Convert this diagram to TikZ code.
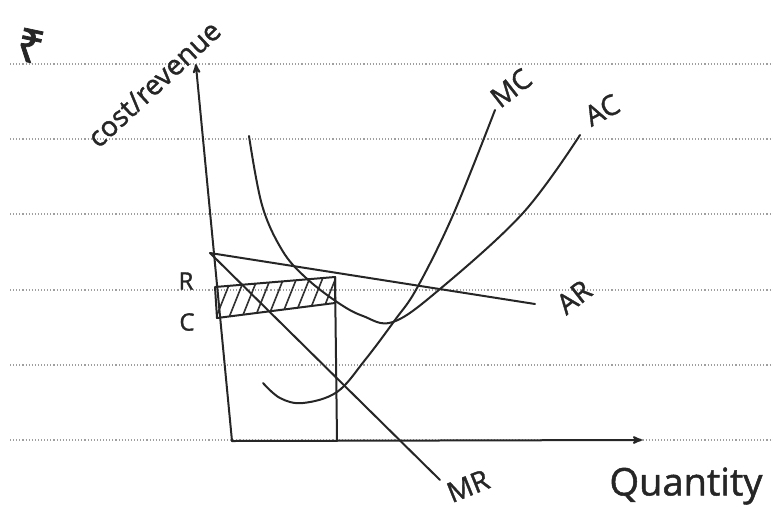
\documentclass[tikz,border=0pt]{standalone}
\usepackage{fontspec}
\setmainfont{Open Sans}
\newfontfamily\handfont{Open Sans}[FakeBold=1.3]
\newfontfamily\rupeefont{Noto Sans}[FakeBold=1.5]
\usetikzlibrary{arrows, calc}

\begin{document}
\begin{tikzpicture}[
  x=1pt, y=-1pt,
  ruled/.style={gray!75, dotted, line width=1.1pt},
  pen/.style={black!85, line width=2pt, line cap=round, line join=round},
  arrow/.style={pen, ->, >=stealth', shorten >=-2pt},
  hatch/.style={black!80, line width=1.6pt, line cap=round},
  hand/.style={font=\handfont\fontsize{28}{32}\selectfont, text=black!85, inner sep=0pt}
]
\useasboundingbox (0,0) rectangle (773,509);

% ruled paper
\foreach \ly in {64,139,214,290,365,440}
  \draw[ruled] (10,\ly) -- (773,\ly);

% key points
\coordinate (origin) at (232,441);
\coordinate (ytop) at (196,66);
\coordinate (xend) at (640,440);
\coordinate (peak) at (210,253);
\coordinate (arend) at (535,304);
\coordinate (mrend) at (440,480);
\coordinate (rectTL) at (215,287);
\coordinate (rectTR) at (335,277);
\coordinate (rectBR) at (335,303);
\coordinate (rectBL) at (217,318);
\coordinate (qfoot) at (337,440);

% hatched profit area
\begin{scope}
  \clip (rectTL) -- (rectTR) -- (rectBR) -- (rectBL) -- cycle;
  \foreach \hx in {200,213,...,350}
    \draw[hatch] (\hx,325) -- (\hx+22,270);
\end{scope}
\draw[pen] (rectTL) -- (rectTR) -- (rectBR) -- (rectBL) -- cycle;

% axes
\draw[arrow] (origin) -- (ytop);
\draw[arrow] (origin) -- (xend);

% AR and MR
\draw[pen] (peak) -- (arend);
\draw[pen] (peak) -- (mrend);

% output line
\draw[pen] (rectTR) -- (qfoot);

% AC and MC curves
\draw[pen] plot[smooth, tension=0.6] coordinates
  {(249,136) (262,205) (282,250) (305,277) (337,302) (363,316) (393,322)
   (440,289) (523,213) (580,135)};
\draw[pen] plot[smooth, tension=0.6] coordinates
  {(263,383) (280,398) (303,403) (337,392) (365,360) (395,320)
   (417,288) (453,215) (495,110)};

% labels
\node[inner sep=0pt, anchor=base, rotate=-12, text=black!85] (rupee) at (27,62) {\rupeefont\fontsize{46}{48}\selectfont ₹};
\node[hand, rotate=43] (costlab) at (154,84) {cost/revenue};
\node[hand, font=\handfont\fontsize{24}{28}\selectfont] (rlab) at (186,281) {R};
\node[hand, font=\handfont\fontsize{24}{28}\selectfont] (clab) at (187,322) {C};
\node[hand, rotate=38] (mclab) at (511,88) {MC};
\node[hand, rotate=28] (aclab) at (602,110) {AC};
\node[hand, rotate=38] (arlab) at (574,297) {AR};
\node[hand, rotate=22] (mrlab) at (468,486) {MR};
\node[hand, font=\handfont\fontsize{38}{42}\selectfont] (qlab) at (686,486) {Quantity};
\end{tikzpicture}
\end{document}
